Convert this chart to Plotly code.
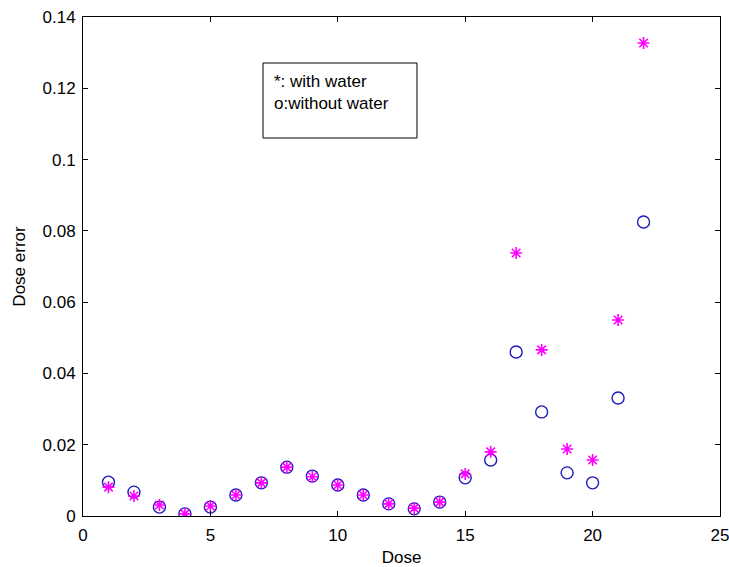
import plotly.graph_objects as go

dose = list(range(1, 23))
without_water = [0.0095, 0.0067, 0.0025, 0.0006, 0.0025, 0.0059, 0.0093, 0.0137, 0.0112, 0.0087,
                 0.0059, 0.0034, 0.0020, 0.0039, 0.0107, 0.0157, 0.0460, 0.0292, 0.0121, 0.0093,
                 0.0331, 0.0825]
with_water = [0.0081, 0.0056, 0.0031, 0.0006, 0.0028, 0.0059, 0.0093, 0.0137, 0.0110, 0.0087,
              0.0059, 0.0034, 0.0022, 0.0039, 0.0118, 0.0180, 0.0738, 0.0466, 0.0188, 0.0157,
              0.0550, 0.1327]
x_ticks = [0, 5, 10, 15, 20, 25]
y_ticks = [0, 0.02, 0.04, 0.06, 0.08, 0.1, 0.12, 0.14]
y_tick_labels = ["0", "0.02", "0.04", "0.06", "0.08", "0.1", "0.12", "0.14"]

fig = go.Figure()
fig.add_trace(go.Scatter(
    x=dose, y=without_water, mode="markers", name="without water",
    marker=dict(symbol="circle-open", size=12, color="#1c1cb8", line=dict(width=1.4, color="#1c1cb8")),
))
fig.add_trace(go.Scatter(
    x=dose, y=with_water, mode="markers", name="with water",
    marker=dict(symbol="asterisk-open", size=10, color="#ff00ff", line=dict(width=1.6, color="#ff00ff")),
))

font = dict(family="Liberation Sans, Arial, sans-serif", size=17, color="black")

fig.update_layout(
    width=729, height=567,
    margin=dict(l=83, r=9, t=17, b=51),
    paper_bgcolor="white", plot_bgcolor="white",
    showlegend=False,
    font=font,
    xaxis=dict(
        range=[0, 25], tickvals=x_ticks, ticktext=[str(v) for v in x_ticks],
        showgrid=False, zeroline=False, showline=True, linecolor="black", linewidth=1,
        mirror="ticks", ticks="inside", ticklen=5, tickcolor="black",
        ticklabelstandoff=4, automargin=False, ticklabeloverflow="allow",
        title=dict(text="Dose", standoff=6, font=font),
    ),
    yaxis=dict(
        range=[0, 0.14], tickvals=y_ticks, ticktext=y_tick_labels,
        showgrid=False, zeroline=False, showline=True, linecolor="black", linewidth=1,
        mirror="ticks", ticks="inside", ticklen=5, tickcolor="black",
        ticklabelstandoff=3, automargin=False, ticklabeloverflow="allow",
        title=dict(text="Dose error", standoff=12, font=font),
    ),
    shapes=[dict(
        type="rect", xref="paper", yref="paper",
        x0=0.2826, x1=0.5243, y0=0.7575, y1=0.9078,
        line=dict(color="black", width=1), fillcolor="white", layer="above",
    )],
    annotations=[dict(
        xref="paper", yref="paper", x=0.2967, y=0.8938,
        xanchor="left", yanchor="top", align="left", showarrow=False,
        text="*: with water<br>o:without water", font=font,
    )],
)

fig.write_html("out.html", config={"displayModeBar": False},
               post_script="document.body.style.margin='0';")
